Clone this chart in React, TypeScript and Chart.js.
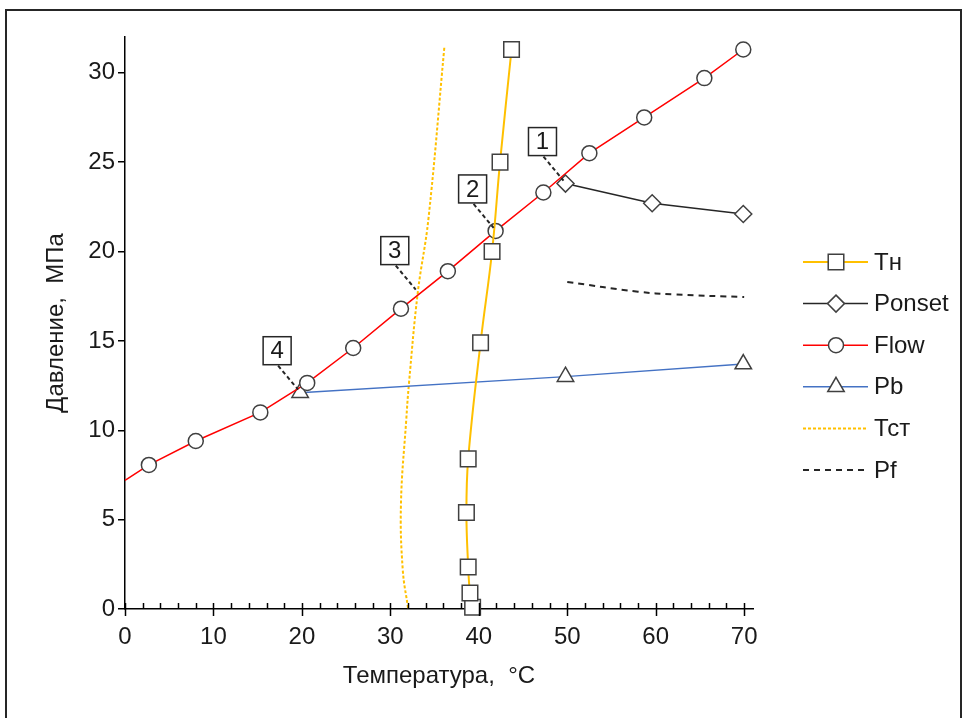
import React, { useEffect, useRef } from 'react';
import { Chart, registerables } from 'chart.js';

Chart.register(...registerables);

const FONT = "'Liberation Sans', Arial, sans-serif";
const TEXT = '#1a1a1a';

// ---- data ----
const TN_T = [39.3, 39.0, 38.8, 38.6, 38.8, 40.2, 41.5, 42.4, 43.7];
const TN_P = [0.1, 0.9, 2.35, 5.4, 8.4, 14.9, 20.0, 25.0, 31.3];

const PONSET_T = [49.8, 59.6, 69.9];
const PONSET_P = [23.8, 22.7, 22.1];

const FLOW_T = [0, 2.7, 8.0, 15.3, 20.6, 25.8, 31.2, 36.5, 41.9, 47.3, 52.5, 58.7, 65.5, 69.9];
const FLOW_P = [7.2, 8.06, 9.4, 11.0, 12.65, 14.6, 16.8, 18.9, 21.15, 23.3, 25.5, 27.5, 29.7, 31.3];

const PB_T = [19.8, 49.8, 69.9];
const PB_P = [12.1, 13.0, 13.7];

const TST_T = [32.0, 31.4, 31.2, 31.8, 32.1, 33.1, 34.3, 36.1];
const TST_P = [0.05, 2.2, 5.9, 10.6, 12.6, 17.7, 21.8, 31.4];

const PF_T = [50, 58, 62, 70];
const PF_P = [18.3, 17.75, 17.6, 17.45];

const ANN_LABELS = ['1', '2', '3', '4'];
const ANN_T = [49.8, 41.9, 33.1, 19.8];
const ANN_P = [23.8, 21.15, 17.7, 12.1];

const SERIES_LABELS = ['Тн', 'Ponset', 'Flow', 'Pb', 'Тст', 'Pf'];

const X_MIN = 0, X_MAX = 71, X_MAJOR = 10, X_MINOR = 2;
const Y_MIN = 0, Y_MAX = 32, Y_STEP = 5;

const toPts = (xs: number[], ys: number[]) => xs.map((x, i) => ({ x, y: ys[i] }));

const MARKER_BORDER = '#404040';

function drawMarker(ctx: CanvasRenderingContext2D, style: string, x: number, y: number, r: number) {
  ctx.save();
  ctx.fillStyle = '#ffffff';
  ctx.strokeStyle = MARKER_BORDER;
  ctx.lineWidth = 1.5;
  ctx.setLineDash([]);
  ctx.beginPath();
  if (style === 'rect') {
    const s = Math.SQRT1_2 * r;
    ctx.rect(x - s, y - s, 2 * s, 2 * s);
  } else if (style === 'rectRot') {
    ctx.moveTo(x, y - r);
    ctx.lineTo(x + r, y);
    ctx.lineTo(x, y + r);
    ctx.lineTo(x - r, y);
    ctx.closePath();
  } else if (style === 'circle') {
    ctx.arc(x, y, r, 0, Math.PI * 2);
  } else if (style === 'triangle') {
    const a = -Math.PI / 2;
    for (let k = 0; k < 3; k++) {
      const ang = a + (k * 2 * Math.PI) / 3;
      const px = x + Math.cos(ang) * r;
      const py = y + Math.sin(ang) * r;
      if (k === 0) ctx.moveTo(px, py);
      else ctx.lineTo(px, py);
    }
    ctx.closePath();
  }
  ctx.fill();
  ctx.stroke();
  ctx.restore();
}

const framePlugin = {
  id: 'frame',
  beforeDraw(chart: any) {
    const ctx = chart.ctx;
    ctx.save();
    ctx.fillStyle = '#fff';
    ctx.fillRect(0, 0, chart.width, chart.height);
    ctx.strokeStyle = '#262626';
    ctx.lineWidth = 2;
    ctx.strokeRect(6, 10, chart.width - 11, chart.height + 10);
    ctx.restore();
  },
};

const xTicksPlugin = {
  id: 'xTicks',
  afterDraw(chart: any) {
    const ctx = chart.ctx;
    const xs = chart.scales.x;
    const base = chart.chartArea.bottom;
    ctx.save();
    ctx.strokeStyle = '#000';
    ctx.lineWidth = 1.5;
    for (let v = X_MIN; v <= X_MAX + 1e-9; v += X_MINOR) {
      const px = Math.round(xs.getPixelForValue(v)) + 0.5;
      const major = Math.abs(v % X_MAJOR) < 1e-9;
      ctx.beginPath();
      ctx.moveTo(px, base - 6);
      ctx.lineTo(px, major ? base + 7 : base);
      ctx.stroke();
    }
    ctx.restore();
  },
};

const annotationPlugin = {
  id: 'boxedNotes',
  afterDatasetsDraw(chart: any) {
    const ctx = chart.ctx;
    const xs = chart.scales.x;
    const ys = chart.scales.y;
    ctx.save();
    ANN_LABELS.forEach((lab, i) => {
      const px = xs.getPixelForValue(ANN_T[i]);
      const py = ys.getPixelForValue(ANN_P[i]);
      const bx = px - 23;
      const by = py - 42;
      ctx.strokeStyle = '#262626';
      ctx.lineWidth = 2;
      ctx.setLineDash([4, 3]);
      ctx.beginPath();
      ctx.moveTo(bx + 1, by + 15);
      ctx.lineTo(px - 2, py - 3);
      ctx.stroke();
      ctx.setLineDash([]);
      ctx.fillStyle = '#fff';
      ctx.lineWidth = 1.5;
      ctx.fillRect(bx - 14, by - 14, 28, 28);
      ctx.strokeRect(bx - 14, by - 14, 28, 28);
      ctx.fillStyle = TEXT;
      ctx.font = `24px ${FONT}`;
      ctx.textAlign = 'center';
      ctx.textBaseline = 'middle';
      ctx.fillText(lab, bx, by + 1);
    });
    ctx.restore();
  },
};

const legendPlugin = {
  id: 'sideLegend',
  afterDraw(chart: any) {
    const ctx = chart.ctx;
    const left = chart.chartArea.right + 50;
    const y0 = 262;
    const gap = 41.6;
    ctx.save();
    chart.data.datasets.forEach((ds: any, i: number) => {
      const y = y0 + i * gap;
      ctx.strokeStyle = ds.borderColor;
      ctx.lineWidth = ds.borderWidth;
      ctx.setLineDash(ds.borderDash || []);
      ctx.beginPath();
      ctx.moveTo(left, y);
      ctx.lineTo(left + 65, y);
      ctx.stroke();
      ctx.setLineDash([]);
      if (ds.legendMarker) drawMarker(ctx, ds.pointStyle, left + 33, y, ds.legendMarker);
      ctx.fillStyle = TEXT;
      ctx.font = `24px ${FONT}`;
      ctx.textAlign = 'left';
      ctx.textBaseline = 'middle';
      ctx.fillText(ds.label, left + 71, y + 1);
    });
    ctx.restore();
  },
};

export default function App() {
  const ref = useRef<HTMLCanvasElement | null>(null);

  useEffect(() => {
    if (!ref.current) return;
    const markerCommon = {
      pointBackgroundColor: '#ffffff',
      pointBorderColor: MARKER_BORDER,
      pointBorderWidth: 1.5,
    };
    const chart = new Chart(ref.current, {
      type: 'line',
      data: {
        datasets: [
          {
            label: SERIES_LABELS[0],
            data: toPts(TN_T, TN_P),
            borderColor: '#FFC000',
            borderWidth: 2,
            tension: 0.4,
            pointStyle: 'rect',
            pointRadius: 11,
            legendMarker: 11,
            ...markerCommon,
          },
          {
            label: SERIES_LABELS[1],
            data: toPts(PONSET_T, PONSET_P),
            borderColor: '#262626',
            borderWidth: 1.5,
            tension: 0,
            pointStyle: 'rectRot',
            pointRadius: 8.5,
            legendMarker: 8.5,
            ...markerCommon,
          },
          {
            label: SERIES_LABELS[2],
            data: toPts(FLOW_T, FLOW_P),
            borderColor: '#FF0000',
            borderWidth: 1.5,
            tension: 0,
            pointStyle: 'circle',
            pointRadius: (c: any) => (c.dataIndex === 0 ? 0 : 7.5),
            legendMarker: 7.5,
            ...markerCommon,
          },
          {
            label: SERIES_LABELS[3],
            data: toPts(PB_T, PB_P),
            borderColor: '#4472C4',
            borderWidth: 1.5,
            tension: 0,
            pointStyle: 'triangle',
            pointRadius: 9.5,
            legendMarker: 9.5,
            ...markerCommon,
          },
          {
            label: SERIES_LABELS[4],
            data: toPts(TST_T, TST_P),
            borderColor: '#FFC000',
            borderWidth: 2,
            borderDash: [3, 2],
            tension: 0.4,
            pointRadius: 0,
            legendMarker: 0,
          },
          {
            label: SERIES_LABELS[5],
            data: toPts(PF_T, PF_P),
            borderColor: '#262626',
            borderWidth: 2,
            borderDash: [6, 5],
            tension: 0.4,
            pointRadius: 0,
            legendMarker: 0,
          },
        ] as any,
      },
      options: {
        responsive: false,
        animation: false,
        events: [],
        parsing: true,
        datasets: { line: { clip: false as any, fill: false } },
        layout: { padding: { top: 37, right: 213, bottom: 0, left: 0 } },
        plugins: {
          legend: { display: false },
          tooltip: { enabled: false },
          title: { display: false },
        },
        scales: {
          x: {
            type: 'linear',
            min: X_MIN,
            max: X_MAX,
            ticks: {
              stepSize: X_MAJOR,
              includeBounds: false,
              autoSkip: false,
              maxRotation: 0,
              padding: 14,
              color: TEXT,
              font: { family: FONT, size: 24 },
            },
            afterBuildTicks: (s: any) => {
              s.ticks = s.ticks.filter((t: any) => Math.abs(t.value % X_MAJOR) < 1e-9);
            },
            afterFit: (s: any) => {
              s.height = 109;
            },
            grid: { display: false, drawTicks: false },
            border: { display: true, color: '#000', width: 1.5 },
            title: {
              display: true,
              text: 'Температура,  °C',
              color: TEXT,
              font: { family: FONT, size: 24 },
              padding: { top: 0, bottom: 27 },
            },
          },
          y: {
            type: 'linear',
            min: Y_MIN,
            max: Y_MAX,
            ticks: {
              stepSize: Y_STEP,
              includeBounds: false,
              autoSkip: false,
              padding: 3,
              color: TEXT,
              font: { family: FONT, size: 24 },
            },
            afterBuildTicks: (s: any) => {
              s.ticks = s.ticks.filter((t: any) => Math.abs(t.value % Y_STEP) < 1e-9);
            },
            afterFit: (s: any) => {
              s.width = 125;
            },
            grid: {
              display: true,
              drawOnChartArea: false,
              drawTicks: true,
              tickLength: 7,
              color: '#000',
              lineWidth: 1.5,
            },
            border: { display: true, color: '#000', width: 1.5 },
            title: {
              display: true,
              text: 'Давление,  МПа',
              color: TEXT,
              font: { family: FONT, size: 24 },
              padding: { top: 42, bottom: 0 },
            },
          },
        },
      },
      plugins: [framePlugin, xTicksPlugin, annotationPlugin, legendPlugin],
    });
    return () => chart.destroy();
  }, []);

  return (
    <div style={{ position: 'absolute', left: 0, top: 0, width: 966, height: 718, background: '#fff' }}>
      <canvas ref={ref} width={966} height={718} style={{ display: 'block', width: 966, height: 718 }} />
    </div>
  );
}
